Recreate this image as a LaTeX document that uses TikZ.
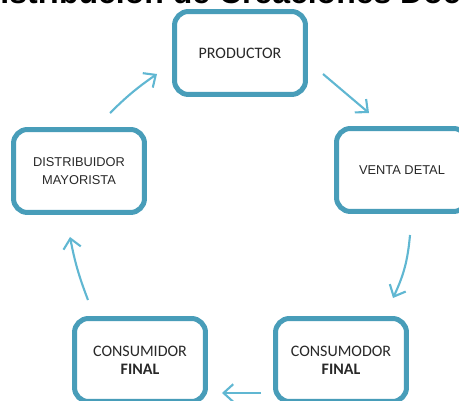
\documentclass[tikz,border=0pt]{standalone}
\usepackage{fontspec}
\setmainfont{Carlito}
\newfontfamily\arialfont{Liberation Sans}
\usetikzlibrary{arrows.meta}
\definecolor{boxteal}{RGB}{72,157,185}
\definecolor{arrowcyan}{RGB}{96,183,210}
\definecolor{textgray}{RGB}{40,40,40}

\begin{document}
\begin{tikzpicture}[x=0.02cm,y=-0.02cm,
  stage/.style={draw=boxteal, line width=0.1cm, rounded corners=0.28cm, fill=white,
    minimum width=2.62cm, minimum height=1.66cm, align=center, text=textgray,
    inner sep=0pt, font=\fontsize{9.1}{10.2}\selectfont},
  wide/.style={font=\arialfont\fontsize{7.3}{10.2}\selectfont},
  flow/.style={arrowcyan, line width=1.2pt, -{Straight Barb[length=5.5pt,width=10pt]}}]
  \useasboundingbox (0,0) rectangle (459,401);

  % Title (cut by the page edge)
  \node[anchor=base west, inner sep=0pt, font=\arialfont\bfseries\fontsize{18.2}{20}\selectfont]
    (title) at (-23,4) {Distribución de Creaciones Doc};

  % Stages
  \node[stage] (prod) at (240,53) {PRODUCTOR};
  \node[stage, wide] (dist) at (79,171) {DISTRIBUIDOR\\MAYORISTA};
  \node[stage, wide] (venta) at (402,170) {VENTA DETAL};
  \node[stage] (cmd) at (140,360) {CONSUMIDOR\\\textbf{FINAL}};
  \node[stage] (cmo) at (341,360) {CONSUMODOR\\\textbf{FINAL}};

  % Flow arrows
  \draw[flow] ([shift={(31,-14)}]dist.north) to[bend left=5] ([shift={(-15,21)}]prod.west);
  \draw[flow] ([shift={(15,21)}]prod.east) -- ([shift={(-33,-13)}]venta.north);
  \draw[flow] ([shift={(8,21)}]venta.south) to[bend left=10] ([shift={(52,-18)}]cmo.north);
  \draw[flow] ([shift={(-12,33)}]cmo.west) -- ([shift={(14,33)}]cmd.east);
  \draw[flow] ([shift={(-52,-16)}]cmd.north) to[bend left=5] ([shift={(-9,22)}]dist.south);
\end{tikzpicture}
\end{document}
